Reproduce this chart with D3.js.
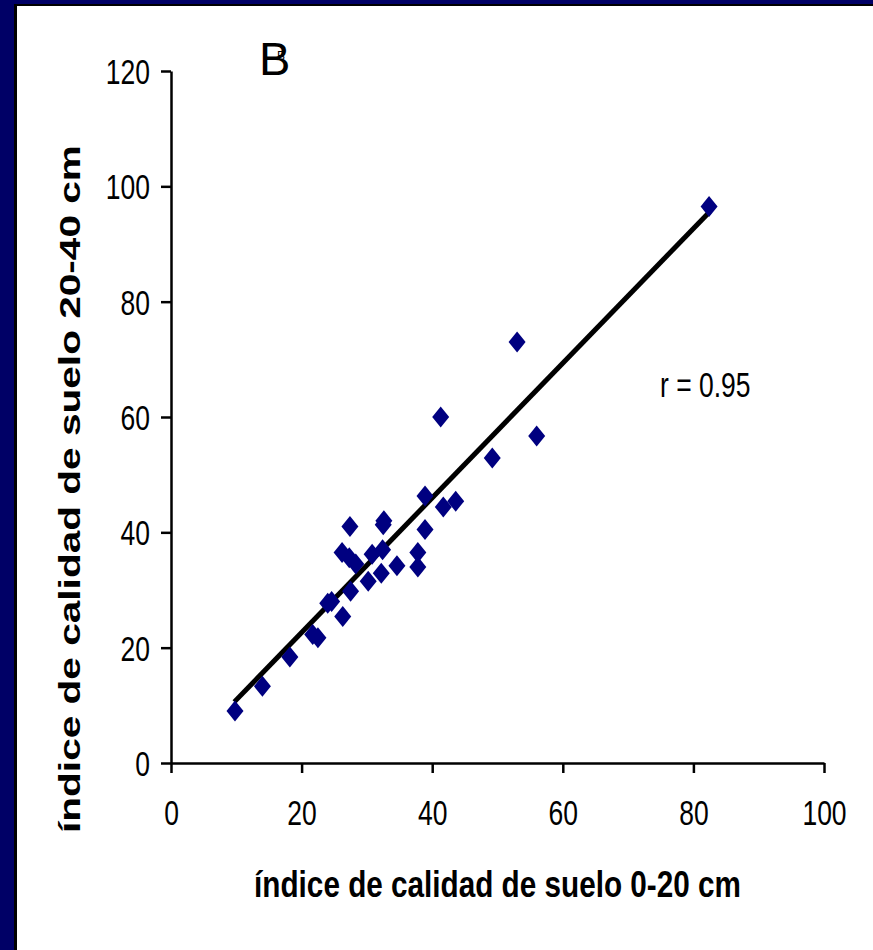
<!DOCTYPE html>
<html>
<head>
<meta charset="utf-8">
<script src="https://cdn.jsdelivr.net/npm/d3@7"></script>
<style>
  body { margin: 0; background: #fff; }
  svg { display: block; }
</style>
</head>
<body>
<div id="chart-container"></div>
<script>
// values
const soilTop = [9.8, 14.0, 18.2, 21.7, 22.5, 24.0, 24.6, 26.3, 26.2, 27.3, 28.3, 27.4, 27.5, 30.2, 30.8,
                 32.2, 32.6, 32.4, 32.5, 34.6, 37.8, 37.8, 38.9, 38.9, 41.3, 41.7, 43.6, 49.2, 53.0, 56.0, 82.4];
const soilSub = [9.0, 13.3, 18.4, 22.3, 21.7, 27.7, 28.0, 25.4, 36.5, 35.6, 34.5, 41.0, 29.8, 31.5, 36.2,
                 32.9, 42.0, 37.0, 41.3, 34.2, 36.5, 34.0, 40.5, 46.3, 60.0, 44.4, 45.4, 52.9, 73.0, 56.7, 96.5];
const trendX = [9.7, 82.5];
const trendY = [10.6, 95.6];
const xTicks = [0, 20, 40, 60, 80, 100];
const yTicks = [0, 20, 40, 60, 80, 100, 120];

const W = 873, H = 950;
const stretch = 1.32; // picture is taller than it is wide

const svg = d3.select("#chart-container")
    .append("svg")
    .attr("width", W)
    .attr("height", H);

// slide frame
svg.append("rect").attr("width", W).attr("height", H).attr("fill", "#000066");
svg.append("rect").attr("x", 14).attr("y", 4).attr("width", W - 14).attr("height", H - 4).attr("fill", "#000");
svg.append("rect").attr("x", 17).attr("y", 6).attr("width", W - 17).attr("height", H - 6).attr("fill", "#fff");

const xScale = d3.scaleLinear().domain([0, 100]).range([171, 824]);
const yScale = d3.scaleLinear().domain([0, 120]).range([763, 71]);

// axes
const xAxis = d3.axisBottom(xScale).tickValues(xTicks).tickSize(10).tickSizeOuter(0).tickFormat(d3.format("d"));
const yAxis = d3.axisLeft(yScale).tickValues(yTicks).tickSize(10).tickSizeOuter(0).tickFormat(d3.format("d"));

const gx = svg.append("g")
    .attr("transform", `translate(0, ${yScale(0)})`)
    .call(xAxis);
const gy = svg.append("g")
    .attr("transform", `translate(${xScale(0)}, 0)`)
    .call(yAxis);

[gx, gy].forEach(g => {
    g.select(".domain").attr("stroke", "#000").attr("stroke-width", 2.5);
    g.selectAll(".tick line").attr("stroke", "#000").attr("stroke-width", 2.5);
    g.selectAll(".tick text")
        .attr("fill", "#000")
        .style("font-family", "'Liberation Sans', Arial, sans-serif")
        .style("font-size", "26.5px")
        .attr("x", 0).attr("y", 0).attr("dy", 0);
});
gx.selectAll(".tick text")
    .attr("text-anchor", "middle")
    .attr("transform", `translate(0, 62) scale(1, ${stretch})`);
gy.selectAll(".tick text")
    .attr("text-anchor", "end")
    .attr("transform", `translate(-21, 12.5) scale(1, ${stretch})`);

// trend line
svg.append("line")
    .attr("x1", xScale(trendX[0])).attr("y1", yScale(trendY[0]))
    .attr("x2", xScale(trendX[1])).attr("y2", yScale(trendY[1]))
    .attr("stroke", "#000")
    .attr("stroke-width", 5);

// diamonds
const diamond = "M0,-10.5L8.5,0L0,10.5L-8.5,0Z";
svg.selectAll("path.pt")
    .data(soilTop.map((v, i) => [v, soilSub[i]]))
    .enter()
    .append("path")
    .attr("class", "pt")
    .attr("d", diamond)
    .attr("transform", d => `translate(${xScale(d[0])}, ${yScale(d[1])})`)
    .attr("fill", "#000080");

// texts
svg.append("text")
    .attr("transform", `translate(${(xScale(0) + xScale(100)) / 2}, 897) scale(1, 1.25)`)
    .attr("text-anchor", "middle")
    .style("font-family", "'Liberation Sans', Arial, sans-serif")
    .style("font-weight", "bold")
    .style("font-size", "29.7px")
    .text("índice de calidad de suelo 0-20 cm");

svg.append("text")
    .attr("transform", `translate(80, 833) rotate(-90) scale(1.4, 1)`)
    .attr("text-anchor", "start")
    .style("font-family", "'Liberation Sans', Arial, sans-serif")
    .style("font-weight", "bold")
    .style("font-size", "29px")
    .text("índice de calidad de suelo 20-40 cm");

svg.append("text")
    .attr("transform", `translate(660, 397) scale(1, ${stretch})`)
    .style("font-family", "'Liberation Sans', Arial, sans-serif")
    .style("font-size", "26.5px")
    .text("r = 0.95");

svg.append("text")
    .attr("x", 259).attr("y", 75)
    .style("font-family", "'Liberation Sans', Arial, sans-serif")
    .style("font-size", "47px")
    .text("B");
svg.append("text")
    .attr("x", 277).attr("y", 60)
    .style("font-family", "'Liberation Sans', Arial, sans-serif")
    .style("font-size", "12px")
    .text("B");
</script>
</body>
</html>
